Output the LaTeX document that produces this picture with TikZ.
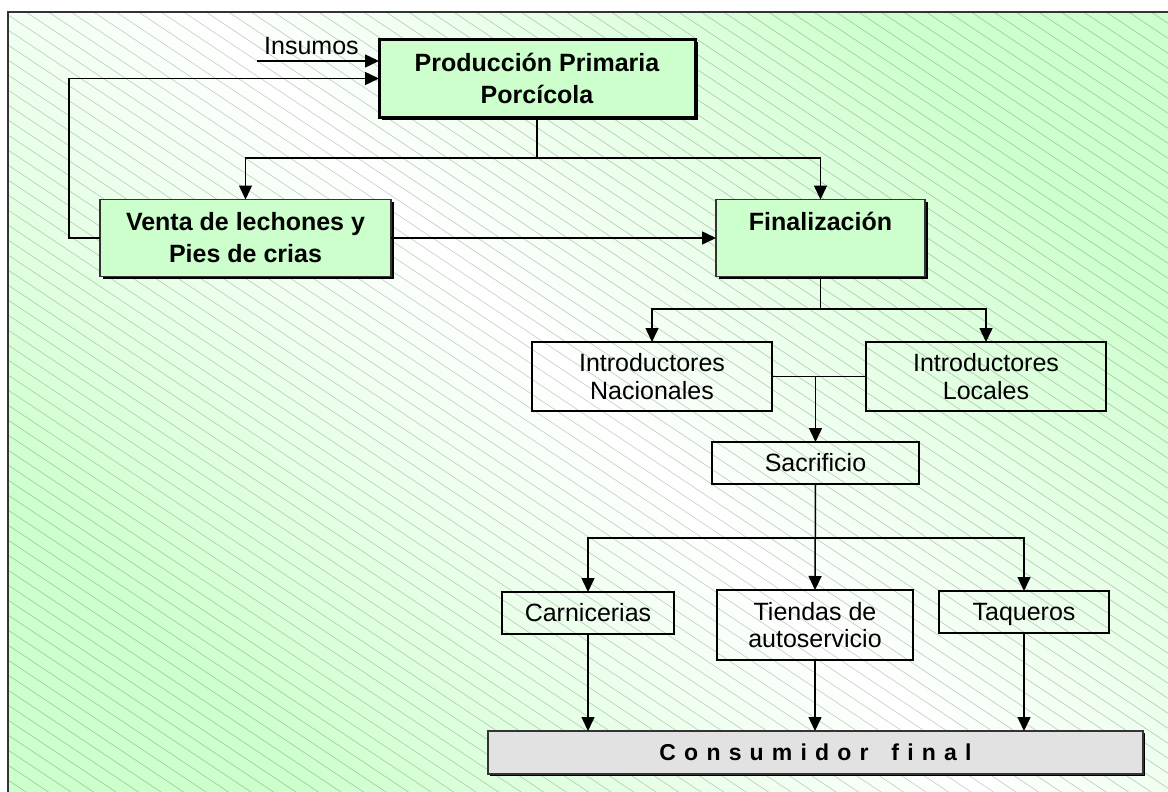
\documentclass[tikz,border=0pt]{standalone}
\usepackage{fontspec}
\setmainfont{Liberation Sans}
\usetikzlibrary{arrows.meta,shadows}
\definecolor{boxgreen}{HTML}{CCFFCC}
\definecolor{framecol}{HTML}{333333}
\definecolor{consgray}{HTML}{E2E2E2}
\newcommand\lspc{\hspace{8.2pt}}
\tikzset{
  basebox/.style={inner sep=0pt, outer sep=0pt, align=center, text height=17.9pt, text depth=0pt},
  gbox/.style={basebox, draw=framecol, line width=1.5pt, fill=boxgreen,
    font=\fontsize{25}{32}\selectfont\bfseries,
    drop shadow={shadow xshift=2.5pt,shadow yshift=-2.5pt,fill=black,opacity=1}},
  wbox/.style={basebox, draw=black, line width=1.4pt, font=\fontsize{25}{28}\selectfont},
  conn/.style={line width=1.5pt, draw=black},
  arr/.style={conn, -{Triangle[length=14pt,width=13pt]}},
  hatch/.style={draw=black, opacity=0.24, line width=0.55pt},
}
\begin{document}
\begin{tikzpicture}[x=1pt,y=-1pt]
\useasboundingbox (0,0) rectangle (1168,792);
% background
\shade[top color=boxgreen,bottom color=boxgreen,middle color=white,shading angle=-45] (8,12) rectangle (1168,792);
\begin{scope}
  \clip (8,12) rectangle (1168,792);
  \foreach \c in {-780,-765,...,795} {\draw[hatch] (8,\c) -- (1168,\c+773.33);}
\end{scope}
\draw[framecol, line width=2pt] (1168,12) -- (8,12) -- (8,792);

% nodes
\node[gbox, draw=black, line width=3pt, minimum width=316pt, minimum height=77pt, text height=49.9pt,
  drop shadow={shadow xshift=1.5pt,shadow yshift=-1.5pt,fill=black,opacity=1}]
  (prod) at (537,78.5) {Producción Primaria\\Porcícola};
\node[gbox, minimum width=291pt, minimum height=77pt, text height=49.9pt] (venta) at (245.5,238) {Venta de lechones y\\Pies de crias};
\node[gbox, minimum width=209pt, minimum height=77pt, text depth=32pt] (final) at (820.5,238) {Finalización};
\node[wbox, minimum width=240pt, minimum height=69pt, text height=45.9pt] (nac) at (652,376.5) {Introductores\\Nacionales};
\node[wbox, minimum width=240pt, minimum height=69pt, text height=45.9pt] (loc) at (986,376.5) {Introductores\\Locales};
\node[wbox, minimum width=207pt, minimum height=42pt] (sac) at (815.5,463) {Sacrificio};
\node[wbox, minimum width=172pt, minimum height=42pt] (carn) at (588,613) {Carnicerias};
\node[wbox, minimum width=196pt, minimum height=70pt, font=\fontsize{25}{27}\selectfont, text height=44.9pt] (tiend) at (815,625) {Tiendas de\\autoservicio};
\node[wbox, minimum width=170pt, minimum height=42pt] (taq) at (1024,612) {Taqueros};
\node[basebox, draw=framecol, line width=1.5pt, fill=consgray, minimum width=655pt, minimum height=43pt,
  text height=16.5pt, font=\fontsize{23}{27}\selectfont\bfseries,
  drop shadow={shadow xshift=2pt,shadow yshift=-2pt,fill=black,opacity=1}]
  (cons) at (815.5,752.5) {C\lspc o\lspc n\lspc s\lspc u\lspc m\lspc i\lspc d\lspc o\lspc r\lspc\ \lspc f\lspc i\lspc n\lspc a\lspc l};
\node[anchor=base west, inner sep=0pt, font=\fontsize{25}{28}\selectfont] (insl) at (264,55) {Insumos};

% connectors
\coordinate (ins) at (257,61);
\draw[arr] (ins) -- (ins -| prod.west);
\draw[arr] (venta.west) -- ++(-31,0) |- (prod.west);
\coordinate (s1) at (537,158);
\draw[conn] (prod.south) -- (s1);
\draw[arr] (s1) -| (venta.north);
\draw[arr] (s1) -| (final.north);
\draw[arr] (venta.east) -- (final.west);
\coordinate (s2) at (820.5,309);
\draw[conn] (final.south) -- (s2);
\draw[arr] (s2) -| (nac.north);
\draw[arr] (s2) -| (loc.north);
\draw[conn] (nac.east) -- (loc.west);
\draw[arr] (nac.east -| sac.north) -- (sac.north);
\draw[arr] (sac.south) -- (tiend.north);
\coordinate (s3) at (815.5,538);
\draw[arr] (s3) -| (carn.north);
\draw[arr] (s3) -| (taq.north);
\draw[arr] (carn.south) -- (carn.south |- cons.north);
\draw[arr] (tiend.south) -- (tiend.south |- cons.north);
\draw[arr] (taq.south) -- (taq.south |- cons.north);
\end{tikzpicture}
\end{document}
